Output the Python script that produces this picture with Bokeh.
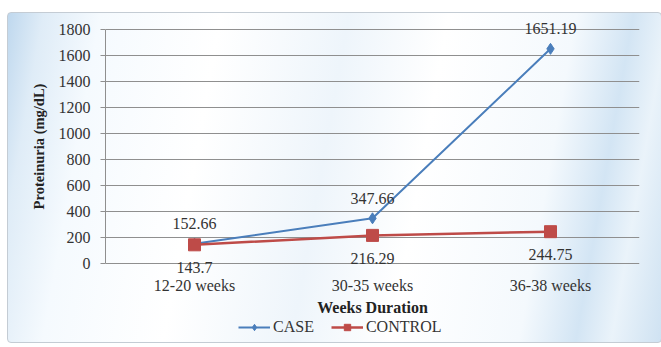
from bokeh.plotting import figure
from bokeh.layouts import column
from bokeh.models import (ColumnDataSource, LabelSet, Legend, LegendItem,
                          SingleIntervalTicker, FactorRange, Range1d)
from bokeh.embed import file_html
from bokeh.resources import INLINE

# Proteinuria by gestational period
periods = ["12-20 weeks", "30-35 weeks", "36-38 weeks"]
case_values = [152.66, 347.66, 1651.19]
control_values = [143.7, 216.29, 244.75]

SERIF = "Liberation Serif"
BLUE = "#4a7ebb"
RED = "#be4b48"
TEXT = "#333333"

case_src = ColumnDataSource(dict(x=periods, y=case_values,
                                 lbl=[f"{v:g}" for v in case_values]))
ctrl_src = ColumnDataSource(dict(x=periods, y=control_values,
                                 lbl=[f"{v:g}" for v in control_values]))

x_range = FactorRange(*periods)

# the value range is padded so the value labels above/below the points stay
# inside the frame; the axis itself only spans 0..1800
p = figure(frame_width=534, frame_height=260, x_range=x_range,
           y_range=(-100, 1900), output_backend="svg", toolbar_location=None,
           min_border_left=97, min_border_right=22, min_border_top=3,
           min_border_bottom=42)
p.border_fill_color = None
p.background_fill_color = None
p.outline_line_color = None

# grid
p.xgrid.grid_line_color = None
p.ygrid.grid_line_color = "#8f8f8f"
p.ygrid.grid_line_width = 1

# y axis
p.yaxis.ticker = SingleIntervalTicker(interval=200)
p.yaxis.bounds = (0, 1800)
p.yaxis.axis_label = "Proteinuria (mg/dL)"
p.yaxis.axis_label_text_font = SERIF
p.yaxis.axis_label_text_font_style = "bold"
p.yaxis.axis_label_text_font_size = "14.5px"
p.yaxis.axis_label_text_color = "#222222"
p.yaxis.axis_label_standoff = 9
p.yaxis.major_label_text_font = SERIF
p.yaxis.major_label_text_font_size = "16px"
p.yaxis.major_label_text_color = TEXT
p.yaxis.major_label_standoff = 10
p.yaxis.axis_line_color = "#8f8f8f"
p.yaxis.major_tick_line_color = "#8f8f8f"
p.yaxis.major_tick_out = 5
p.yaxis.major_tick_in = 0
p.yaxis.minor_tick_line_color = None

# x axis (the zero gridline acts as the baseline)
p.xaxis.axis_label = "Weeks Duration"
p.xaxis.axis_label_text_font = SERIF
p.xaxis.axis_label_text_font_style = "bold"
p.xaxis.axis_label_text_font_size = "16px"
p.xaxis.axis_label_text_color = "#222222"
p.xaxis.axis_label_standoff = 2
p.xaxis.major_label_text_font = SERIF
p.xaxis.major_label_text_font_size = "16px"
p.xaxis.major_label_text_color = TEXT
p.xaxis.major_label_standoff = 0
p.xaxis.major_tick_out = 0
p.xaxis.major_tick_in = 0
p.xaxis.axis_line_color = None
p.xaxis.major_tick_line_color = None


def draw_series(fig):
    case_line = fig.line("x", "y", source=case_src, line_color=BLUE, line_width=2)
    case_mark = fig.scatter("x", "y", source=case_src, marker="diamond", size=11,
                            fill_color=BLUE, line_color=BLUE)
    ctrl_line = fig.line("x", "y", source=ctrl_src, line_color=RED, line_width=2.5)
    ctrl_mark = fig.scatter("x", "y", source=ctrl_src, marker="square", size=12,
                            fill_color=RED, line_color=RED)
    return (case_line, case_mark), (ctrl_line, ctrl_mark)


draw_series(p)

# value labels: case above, control below
p.add_layout(LabelSet(x="x", y="y", text="lbl", source=case_src, y_offset=20,
                      text_align="center", text_baseline="middle",
                      text_font=SERIF, text_font_size="16px",
                      text_color=TEXT))
p.add_layout(LabelSet(x="x", y="y", text="lbl", source=ctrl_src, y_offset=-23,
                      text_align="center", text_baseline="middle",
                      text_font=SERIF, text_font_size="16px",
                      text_color=TEXT))

# legend strip under the chart; its own copy of the series lies outside its
# view range so only the legend shows
key = figure(frame_width=653, frame_height=24, x_range=x_range,
             y_range=Range1d(10000, 10001), x_axis_type=None, y_axis_type=None,
             output_backend="svg", toolbar_location=None, min_border=0)
key.border_fill_color = None
key.background_fill_color = None
key.outline_line_color = None
key.grid.visible = False
case_r, ctrl_r = draw_series(key)

legend = Legend(items=[LegendItem(label="CASE", renderers=list(case_r)),
                       LegendItem(label="CONTROL", renderers=list(ctrl_r))],
                orientation="horizontal", location=(230, 6))
legend.label_text_font = SERIF
legend.label_text_font_size = "16px"
legend.label_text_color = TEXT
legend.label_height = 16
legend.glyph_width = 32
legend.glyph_height = 16
legend.label_standoff = 3
legend.spacing = 17
legend.padding = 0
legend.margin = 0
legend.border_line_color = None
legend.background_fill_alpha = 0
key.add_layout(legend, "center")

# card with a soft blue sheen behind both parts
root = column(p, key, spacing=0, styles={
    "margin-left": "7px",
    "margin-top": "12px",
    "border": "1px solid #c4ccd4",
    "border-radius": "4px",
    "background": ("linear-gradient(100deg, #bfd8ee 0%, #dfecf7 5%, #f5fafe 13%, "
                   "#ffffff 30%, #eef5fb 48%, #ffffff 62%, #f4f9fd 80%, "
                   "#d3e5f4 88%, #eaf3fa 93%, #cfe2f2 100%)"),
})

open("out.html", "w").write(file_html(root, INLINE))
